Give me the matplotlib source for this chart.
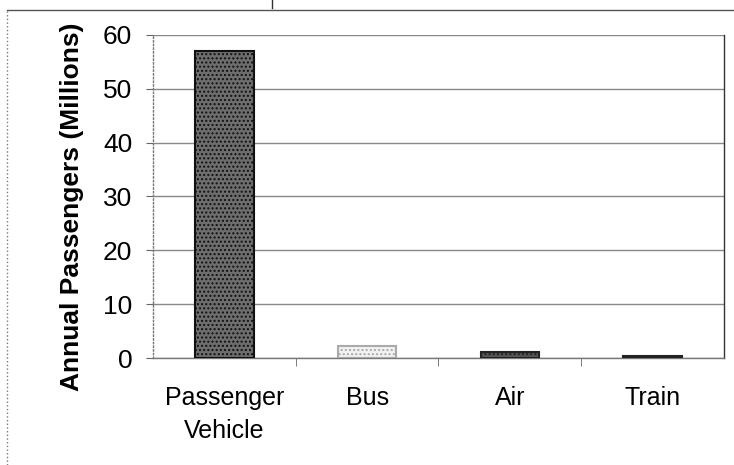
import numpy as np
import matplotlib.pyplot as plt
from matplotlib.lines import Line2D

categories = ['Passenger\nVehicle', 'Bus', 'Air', 'Train']
passengers = [57.0, 2.2, 1.2, 0.4]
yticks = [0, 10, 20, 30, 40, 50, 60]

fills = ['#6e6e6e', '#f2f2f2', '#555555', '#444444']
edges = ['#111111', '#aaaaaa', '#222222', '#222222']

plt.rcParams['font.family'] = ['Liberation Sans Narrow', 'Liberation Sans', 'DejaVu Sans']
plt.rcParams['hatch.color'] = '#999999'

fig = plt.figure(figsize=(7.34, 4.65), dpi=100)
ax = fig.add_axes([0.2084, 0.230, 0.778, 0.695])

x = np.arange(len(categories))
ax.bar(x, passengers, width=0.41, color=fills, edgecolor=edges, linewidth=1.5,
       hatch='....', zorder=3)

ax.set_xlim(-0.5, 3.5)
ax.set_ylim(0, 60)
ax.set_yticks(yticks)
ax.set_yticklabels([str(v) for v in yticks], fontsize=19)
ax.yaxis.grid(True, color='#888888', linewidth=1.0, zorder=0)

ax.set_xticks(x)
ax.set_xticklabels(categories, fontsize=18, linespacing=1.5)
ax.tick_params(axis='x', length=0, pad=20)
ax.set_xticks([0.5, 1.5, 2.5], minor=True)
ax.tick_params(axis='x', which='minor', length=6, color='#666666', direction='out')
ax.tick_params(axis='y', length=5, color='#666666', pad=10)

for s in ['top', 'right', 'left', 'bottom']:
    ax.spines[s].set_color('#777777')
    ax.spines[s].set_linewidth(1.0)
ax.spines['left'].set_linestyle(':')
ax.spines['right'].set_color('#333333')
ax.spines['top'].set_visible(False)

ax.set_ylabel('Annual Passengers (Millions)', fontsize=19, fontweight='bold')
ax.yaxis.set_label_coords(-0.12, 0.467)

# outer chart frame
fig.add_artist(Line2D([0.0095, 0.0095], [0.0, 0.978], transform=fig.transFigure,
                      color='#777777', linewidth=1.0, linestyle=':'))
fig.add_artist(Line2D([0.0095, 1.0], [0.978, 0.978], transform=fig.transFigure,
                      color='#555555', linewidth=1.0))
fig.add_artist(Line2D([0.37, 0.37], [0.983, 1.0], transform=fig.transFigure,
                      color='#333333', linewidth=1.0))

fig.savefig('out.png', dpi=100)
